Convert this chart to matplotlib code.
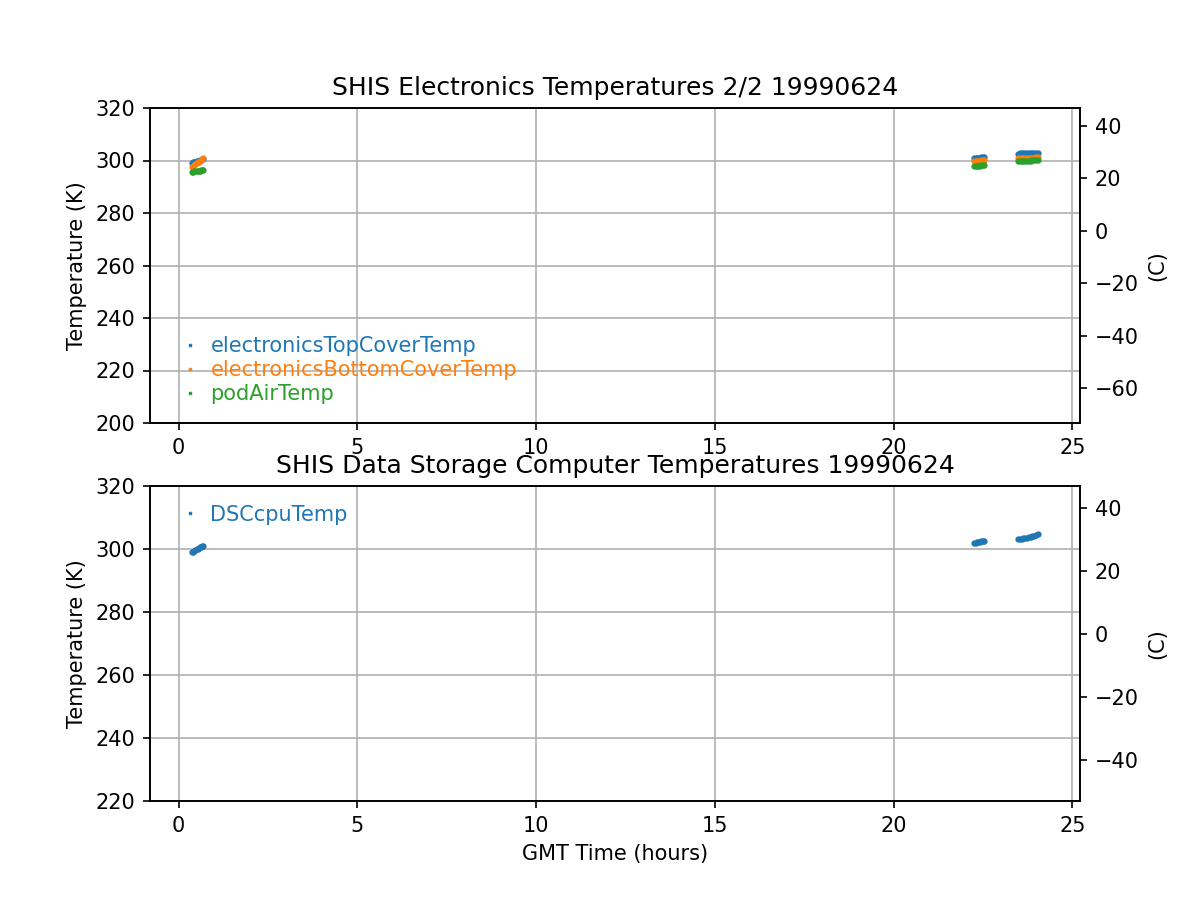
import matplotlib
matplotlib.use("Agg")
import matplotlib.pyplot as plt

# GMT time (hours) of the samples
hours = [0.38, 0.41, 0.44, 0.47, 0.50, 0.53, 0.56, 0.59, 0.62, 0.65, 0.68,
         22.25, 22.29, 22.33, 22.37, 22.41, 22.45, 22.49, 22.53,
         23.48, 23.53, 23.58, 23.63, 23.68, 23.73, 23.78, 23.83, 23.88, 23.93, 23.98, 24.03]

# temperatures (K)
top_cover = [299.2, 299.3, 299.5, 299.6, 299.8, 299.9, 300.0, 300.2, 300.3, 300.5, 300.6,
             300.8, 300.9, 301.0, 301.0, 301.1, 301.2, 301.3, 301.4,
             302.6, 302.7, 302.7, 302.7, 302.8, 302.8, 302.8, 302.9, 302.9, 302.9, 303.0, 303.0]
bottom_cover = [297.6, 297.9, 298.3, 298.6, 298.9, 299.3, 299.6, 299.9, 300.3, 300.6, 301.0,
                299.7, 299.8, 299.9, 300.0, 300.0, 300.1, 300.1, 300.2,
                300.8, 300.8, 300.9, 300.9, 301.0, 301.0, 301.0, 301.1, 301.1, 301.1, 301.2, 301.2]
pod_air = [295.8, 295.8, 295.9, 295.9, 296.0, 296.0, 296.1, 296.1, 296.2, 296.2, 296.3,
           297.8, 297.9, 297.9, 298.0, 298.0, 298.1, 298.1, 298.2,
           299.7, 299.8, 299.8, 299.9, 299.9, 300.0, 300.0, 300.0, 300.1, 300.1, 300.1, 300.2]
dsc_cpu = [299.0, 299.2, 299.4, 299.6, 299.9, 300.1, 300.3, 300.5, 300.7, 300.9, 301.1,
           301.9, 302.0, 302.1, 302.2, 302.3, 302.4, 302.5, 302.6,
           303.1, 303.2, 303.3, 303.4, 303.5, 303.6, 303.7, 303.9, 304.0, 304.2, 304.4, 304.7]

fig, (ax1, ax2) = plt.subplots(2, 1, figsize=(8, 6), dpi=150)

leg_kw = dict(frameon=False, labelcolor='linecolor', markerscale=0.4,
              handletextpad=0.0, labelspacing=0.2)

# electronics panel
ax1.plot(hours, top_cover, '.', markersize=4, label='electronicsTopCoverTemp')
ax1.plot(hours, bottom_cover, '.', markersize=4, label='electronicsBottomCoverTemp')
ax1.plot(hours, pod_air, '.', markersize=4, label='podAirTemp')
ax1.set_ylim(200, 320)
ax1.set_ylabel('Temperature (K)')
ax1.set_title('SHIS Electronics Temperatures 2/2 19990624')
ax1.grid(True)
ax1.legend(loc='lower left', **leg_kw)
r1 = ax1.twinx()
lo, hi = ax1.get_ylim()
r1.set_ylim(lo - 273.15, hi - 273.15)
r1.set_ylabel('(C)')

# data storage computer panel
ax2.plot(hours, dsc_cpu, '.', markersize=4, label='DSCcpuTemp')
ax2.set_ylim(220, 320)
ax2.set_ylabel('Temperature (K)')
ax2.set_xlabel('GMT Time (hours)')
ax2.set_title('SHIS Data Storage Computer Temperatures 19990624')
ax2.grid(True)
ax2.legend(loc='upper left', **leg_kw)
r2 = ax2.twinx()
lo, hi = ax2.get_ylim()
r2.set_ylim(lo - 273.15, hi - 273.15)
r2.set_ylabel('(C)')

fig.savefig('out.png')
